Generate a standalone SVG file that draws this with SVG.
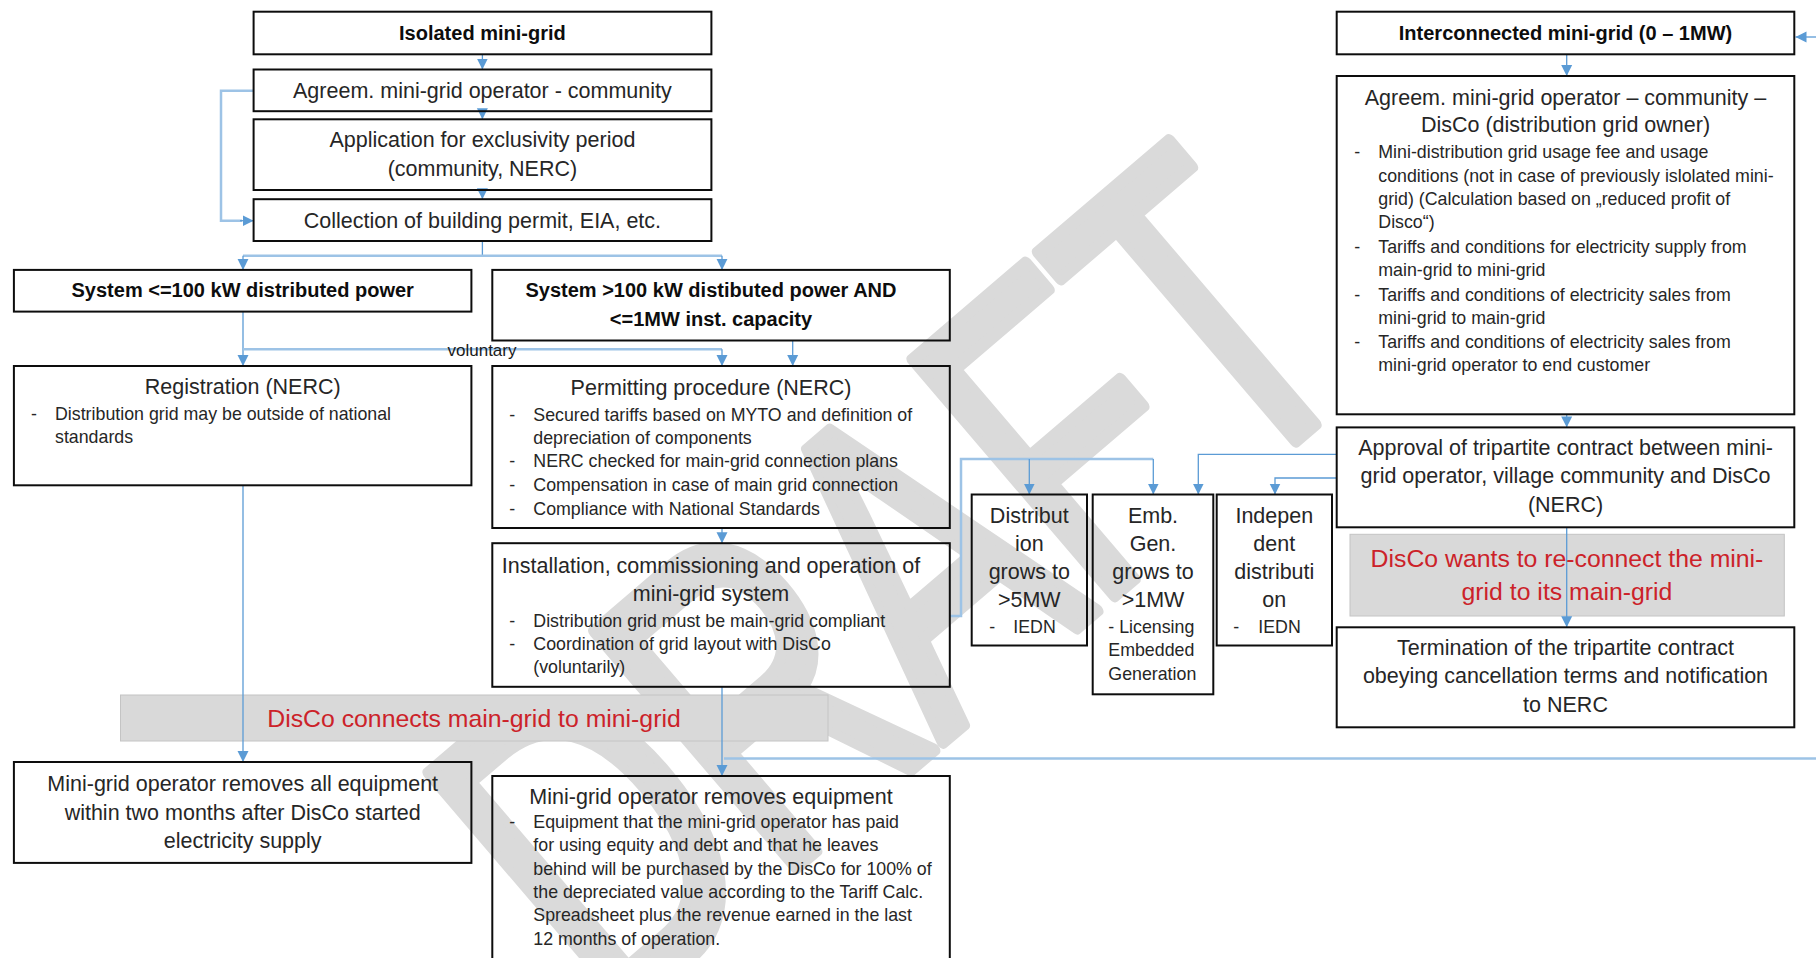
<svg xmlns="http://www.w3.org/2000/svg" width="1816" height="958" viewBox="0 0 1816 958">
<style>
.box{fill:none;stroke:#0d0d0d;stroke-width:2}
.t{font-family:"Liberation Sans",Arial,sans-serif;font-size:21.5px;fill:#262626;text-anchor:middle}
.b{font-weight:bold;font-size:20px;fill:#0d0d0d}
.s{font-size:17.8px;text-anchor:start}
.r{fill:#cc2229;font-size:24.8px}
.c{fill:none;stroke:#5b9bd5;stroke-width:1.3}
.cl{fill:none;stroke:#9dc3e6;stroke-width:2.5}
.band{fill:#d9d9d9;stroke:#c4c4c4;stroke-width:1}
.wm{font-family:"Liberation Sans",Arial,sans-serif;font-size:310px;letter-spacing:-6px;fill:#dadada;stroke:#dadada;stroke-width:9;stroke-linejoin:round}
</style>
<defs>
<marker id="ar" markerUnits="userSpaceOnUse" viewBox="0 0 10 10" markerWidth="11" markerHeight="12" refX="10" refY="5" orient="auto">
<path d="M0,0 L10,5 L0,10 z" fill="#5b9bd5"/>
</marker>
</defs>
<rect width="1816" height="958" fill="#ffffff"/>
<g id="watermark">
<text class="wm" transform="translate(610,1026.5) rotate(-40.5) scale(1,1.455)">DRAFT</text>
</g>
<g id="bands">
<rect class="band" x="120.5" y="695" width="707.5" height="46"/>
<rect class="band" x="1350" y="534.3" width="434.3" height="81.7"/>
</g>
<g id="connectors">
<path class="c" d="M482.4,54.3 V69.5" marker-end="url(#ar)"/>
<path class="c" d="M482.4,111.2 V119.3" marker-end="url(#ar)"/>
<path class="c" d="M482.4,190 V199.2" marker-end="url(#ar)"/>
<path class="cl" d="M253.6,90.7 H221 V220.7 H242"/>
<path class="c" d="M240,220.7 H253.6" marker-end="url(#ar)"/>
<path class="c" d="M482.4,241 V255.7"/>
<path class="cl" d="M243,255.7 H722"/>
<path class="c" d="M243,255.7 V269.9" marker-end="url(#ar)"/>
<path class="c" d="M722,255.7 V269.9" marker-end="url(#ar)"/>
<path class="c" d="M243,311.6 V366" marker-end="url(#ar)"/>
<path class="cl" d="M243,349.3 H722"/>
<path class="c" d="M722,349.3 V366" marker-end="url(#ar)"/>
<path class="c" d="M792.7,340.5 V366" marker-end="url(#ar)"/>
<path class="c" d="M722,528 V543.2" marker-end="url(#ar)"/>
<path class="c" d="M243,485.3 V762" marker-end="url(#ar)"/>
<path class="c" d="M722,686.8 V776" marker-end="url(#ar)"/>
<path class="cl" d="M724,758.6 H1816"/>
<path class="cl" d="M949.7,616 H961 V459 H1153.3"/>
<path class="c" d="M1153.3,459 V494.5" marker-end="url(#ar)"/>
<path class="c" d="M1029.3,459 V494.5" marker-end="url(#ar)"/>
<path class="c" d="M1336.7,454.3 H1198.3 V494.5" marker-end="url(#ar)"/>
<path class="c" d="M1336.7,478 H1275 V494.5" marker-end="url(#ar)"/>
<path class="c" d="M1566.7,54.3 V76" marker-end="url(#ar)"/>
<path class="c" d="M1566.7,414.3 V427.4" marker-end="url(#ar)"/>
<path class="c" d="M1566.7,527.3 V627.3" marker-end="url(#ar)"/>
<path class="c" d="M1816,37 H1795.5" marker-end="url(#ar)"/>
</g>
<g id="n-isolated">
<rect class="box" x="253.6" y="11.7" width="457.8" height="42.6"/>
<text class="t b" x="482.4" y="40">Isolated mini-grid</text>
</g>
<g id="n-agreem">
<rect class="box" x="253.6" y="69.5" width="457.8" height="41.7"/>
<text class="t" x="482.4" y="98">Agreem. mini-grid operator - community</text>
</g>
<g id="n-application">
<rect class="box" x="253.6" y="119.3" width="457.8" height="70.7"/>
<text class="t" x="482.4" y="147">Application for exclusivity period</text>
<text class="t" x="482.4" y="176">(community, NERC)</text>
</g>
<g id="n-collection">
<rect class="box" x="253.6" y="199.2" width="457.8" height="41.8"/>
<text class="t" x="482.4" y="227.5">Collection of building permit, EIA, etc.</text>
</g>
<g id="n-sys100">
<rect class="box" x="13.9" y="269.9" width="457.5" height="41.7"/>
<text class="t b" x="242.7" y="297">System &lt;=100 kW distributed power</text>
</g>
<g id="n-sys1mw">
<rect class="box" x="492.3" y="269.9" width="457.5" height="70.6"/>
<text class="t b" x="711" y="297">System &gt;100 kW distibuted power AND</text>
<text class="t b" x="711" y="325.5">&lt;=1MW inst. capacity</text>
</g>
<text class="t" x="482" y="356" style="font-size:17px;fill:#1a1a1a">voluntary</text>
<g id="n-registration">
<rect class="box" x="13.9" y="366" width="457.5" height="119.3"/>
<text class="t" x="242.7" y="393.5">Registration (NERC)</text>
<text class="t s" x="31" y="420">-</text>
<text class="t s" x="55" y="420">Distribution grid may be outside of national</text>
<text class="t s" x="55" y="443.3">standards</text>
</g>
<g id="n-permitting">
<rect class="box" x="492.3" y="366" width="457.5" height="162"/>
<text class="t" x="711" y="395">Permitting procedure (NERC)</text>
<text class="t s" x="509.3" y="420.5">-</text>
<text class="t s" x="533.3" y="420.5">Secured tariffs based on MYTO and definition of</text>
<text class="t s" x="533.3" y="443.5">depreciation of components</text>
<text class="t s" x="509.3" y="467">-</text>
<text class="t s" x="533.3" y="467">NERC checked for main-grid connection plans</text>
<text class="t s" x="509.3" y="490.5">-</text>
<text class="t s" x="533.3" y="490.5">Compensation in case of main grid connection</text>
<text class="t s" x="509.3" y="514.5">-</text>
<text class="t s" x="533.3" y="514.5">Compliance with National Standards</text>
</g>
<g id="n-install">
<rect class="box" x="492.3" y="543.2" width="457.5" height="143.6"/>
<text class="t" x="711" y="572.5">Installation, commissioning and operation of</text>
<text class="t" x="711" y="600.5">mini-grid system</text>
<text class="t s" x="509.3" y="626.7">-</text>
<text class="t s" x="533.3" y="626.7">Distribution grid must be main-grid compliant</text>
<text class="t s" x="509.3" y="650">-</text>
<text class="t s" x="533.3" y="650">Coordination of grid layout with DisCo</text>
<text class="t s" x="533.3" y="673">(voluntarily)</text>
</g>
<g id="n-band1">
<text class="t r" x="474" y="727">DisCo connects main-grid to mini-grid</text>
</g>
<g id="n-removes-all">
<rect class="box" x="13.9" y="762" width="457.5" height="100.9"/>
<text class="t" x="242.7" y="791">Mini-grid operator removes all equipment</text>
<text class="t" x="242.7" y="820">within two months after DisCo started</text>
<text class="t" x="242.7" y="848">electricity supply</text>
</g>
<g id="n-removes">
<rect class="box" x="492.3" y="776" width="457.5" height="200"/>
<text class="t" x="711" y="804">Mini-grid operator removes equipment</text>
<text class="t s" x="509.3" y="828">-</text>
<text class="t s" x="533.3" y="828">Equipment that the mini-grid operator has paid</text>
<text class="t s" x="533.3" y="851.3">for using equity and debt and that he leaves</text>
<text class="t s" x="533.3" y="874.6">behind will be purchased by the DisCo for 100% of</text>
<text class="t s" x="533.3" y="898">the depreciated value according to the Tariff Calc.</text>
<text class="t s" x="533.3" y="921.3">Spreadsheet plus the revenue earned in the last</text>
<text class="t s" x="533.3" y="944.6">12 months of operation.</text>
</g>
<g id="n-distribution">
<rect class="box" x="971.7" y="494.5" width="115.3" height="151"/>
<text class="t" x="1029.3" y="522.5">Distribut</text>
<text class="t" x="1029.3" y="550.7">ion</text>
<text class="t" x="1029.3" y="578.8">grows to</text>
<text class="t" x="1029.3" y="607">&gt;5MW</text>
<text class="t s" x="989.3" y="632.5">-</text>
<text class="t s" x="1013.3" y="632.5">IEDN</text>
</g>
<g id="n-embgen">
<rect class="box" x="1092.7" y="494.5" width="120.6" height="199.8"/>
<text class="t" x="1153" y="522.5">Emb.</text>
<text class="t" x="1153" y="550.7">Gen.</text>
<text class="t" x="1153" y="578.8">grows to</text>
<text class="t" x="1153" y="607">&gt;1MW</text>
<text class="t s" x="1108.3" y="633">- Licensing</text>
<text class="t s" x="1108.3" y="656.3">Embedded</text>
<text class="t s" x="1108.3" y="679.5">Generation</text>
</g>
<g id="n-independent">
<rect class="box" x="1216.7" y="494.5" width="115.3" height="151"/>
<text class="t" x="1274.3" y="522.5">Indepen</text>
<text class="t" x="1274.3" y="550.7">dent</text>
<text class="t" x="1274.3" y="578.8">distributi</text>
<text class="t" x="1274.3" y="607">on</text>
<text class="t s" x="1233.3" y="632.5">-</text>
<text class="t s" x="1258.3" y="632.5">IEDN</text>
</g>
<g id="n-interconnected">
<rect class="box" x="1336.7" y="11.7" width="457.6" height="42.6"/>
<text class="t b" x="1565.5" y="40">Interconnected mini-grid (0 – 1MW)</text>
</g>
<g id="n-agreem2">
<rect class="box" x="1336.7" y="76" width="457.6" height="338.3"/>
<text class="t" x="1565.5" y="104.5">Agreem. mini-grid operator – community –</text>
<text class="t" x="1565.5" y="131.7">DisCo (distribution grid owner)</text>
<text class="t s" x="1354.3" y="158.3">-</text>
<text class="t s" x="1378.3" y="158.3">Mini-distribution grid usage fee and usage</text>
<text class="t s" x="1378.3" y="181.7">conditions (not in case of previously islolated mini-</text>
<text class="t s" x="1378.3" y="205">grid) (Calculation based on „reduced profit of</text>
<text class="t s" x="1378.3" y="228.3">Disco“)</text>
<text class="t s" x="1354.3" y="253">-</text>
<text class="t s" x="1378.3" y="253">Tariffs and conditions for electricity supply from</text>
<text class="t s" x="1378.3" y="276.3">main-grid to mini-grid</text>
<text class="t s" x="1354.3" y="300.5">-</text>
<text class="t s" x="1378.3" y="300.5">Tariffs and conditions of electricity sales from</text>
<text class="t s" x="1378.3" y="323.5">mini-grid to main-grid</text>
<text class="t s" x="1354.3" y="347.7">-</text>
<text class="t s" x="1378.3" y="347.7">Tariffs and conditions of electricity sales from</text>
<text class="t s" x="1378.3" y="371">mini-grid operator to end customer</text>
</g>
<g id="n-approval">
<rect class="box" x="1336.7" y="427.4" width="457.6" height="99.9"/>
<text class="t" x="1565.5" y="455">Approval of tripartite contract between mini-</text>
<text class="t" x="1565.5" y="483.3">grid operator, village community and DisCo</text>
<text class="t" x="1565.5" y="511.7">(NERC)</text>
</g>
<g id="n-band2">
<text class="t r" x="1567" y="566.7">DisCo wants to re-connect the mini-</text>
<text class="t r" x="1567" y="600">grid to its main-grid</text>
</g>
<g id="n-termination">
<rect class="box" x="1336.7" y="627.3" width="457.6" height="100"/>
<text class="t" x="1565.5" y="655">Termination of the tripartite contract</text>
<text class="t" x="1565.5" y="683.3">obeying cancellation terms and notification</text>
<text class="t" x="1565.5" y="711.7">to NERC</text>
</g>
</svg>
